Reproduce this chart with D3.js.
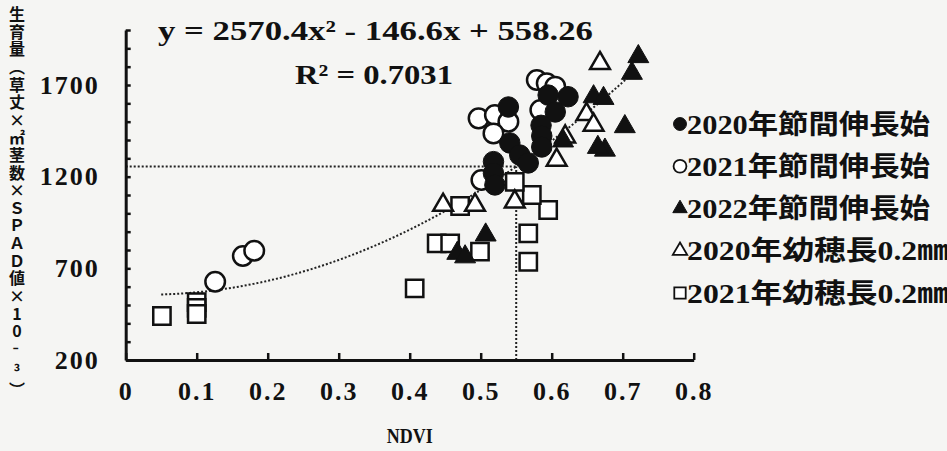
<!DOCTYPE html>
<html>
<head>
<meta charset="utf-8">
<script src="https://cdn.jsdelivr.net/npm/d3@7"></script>
<style>
  body { margin: 0; background: #f5f5f3; }
  text { fill: #111; }
</style>
</head>
<body>
<div id="chart"></div>
<script>
var W = 947, H = 451;

// values: [NDVI, growth]
var stem2020 = [[0.539,1580],[0.623,1636],[0.595,1645],[0.605,1553],[0.585,1480],[0.586,1422],[0.586,1362],
  [0.541,1384],[0.555,1318],[0.518,1282],[0.518,1218],[0.520,1155],[0.567,1275]];
var stem2021 = [[0.579,1727],[0.593,1709],[0.605,1691],[0.584,1564],[0.497,1518],[0.520,1536],[0.539,1500],
  [0.518,1436],[0.501,1182],[0.126,627],[0.165,767],[0.181,796]];
var stem2022 = [[0.722,1855],[0.713,1764],[0.659,1636],[0.673,1627],[0.703,1473],[0.675,1345],[0.665,1360],
  [0.616,1395],[0.507,882],[0.467,782],[0.478,763]];
var panicle2020 = [[0.668,1818],[0.649,1540],[0.659,1482],[0.619,1418],[0.607,1291],[0.447,1045],[0.492,1045],[0.548,1063]];
var panicle2021 = [[0.051,440],[0.1,516],[0.1,484],[0.1,451],[0.407,591],[0.438,836],[0.457,836],[0.499,791],
  [0.471,1040],[0.567,891],[0.567,736],[0.595,1018],[0.572,1100],[0.548,1172]];

var fit = {a: 2570.4, b: -146.6, c: 558.26, from: 0.05, to: 0.72};
var guideX = 0.55, guideY = 1255;

var yLabeled = [200, 700, 1200, 1700];
var xTicks = [0, 0.1, 0.2, 0.3, 0.4, 0.5, 0.6, 0.7, 0.8];
var legendLabels = ["2020年節間伸長始", "2021年節間伸長始", "2022年節間伸長始", "2020年幼穂長0.2㎜", "2021年幼穂長0.2㎜"];
var yTitle = "生育量（草丈×㎡茎数×ＳＰＡＤ値×10⁻³）";

var x = d3.scaleLinear().domain([0, 0.8]).range([125.7, 693.7]);
var y = d3.scaleLinear().domain([200, 2000]).range([360, 30]);

var svg = d3.select("#chart").append("svg")
  .attr("width", W).attr("height", H)
  .style("background-color", "#f5f5f3");

var serif = "'Liberation Serif', 'Noto Sans CJK JP', serif";

// guide lines
var fy = function(v) { return fit.a * v * v + fit.b * v + fit.c; };
svg.append("path")
  .attr("d", "M" + x(0) + "," + y(guideY) + "H" + x(guideX) + "M" + x(guideX) + "," + y(200) + "V" + y(guideY))
  .attr("fill", "none").attr("stroke", "#222").attr("stroke-width", 2).attr("stroke-dasharray", "2,2");

// fitted curve
var curveX = d3.range(fit.from, fit.to + 0.001, 0.01);
svg.append("path")
  .datum(curveX)
  .attr("d", d3.line().x(d => x(d)).y(d => y(fy(d))))
  .attr("fill", "none").attr("stroke", "#222").attr("stroke-width", 2).attr("stroke-dasharray", "2,2");

// axes
var yAxis = d3.axisLeft(y)
  .tickValues(d3.range(200, 2001, 100))
  .tickSize(-5).tickSizeOuter(0).tickPadding(26)
  .tickFormat(d => yLabeled.indexOf(d) >= 0 ? d : "");
var gy = svg.append("g").attr("transform", "translate(" + x(0) + ",0)").call(yAxis);

var xAxis = d3.axisBottom(x)
  .tickValues(xTicks)
  .tickSize(-7).tickSizeOuter(0).tickPadding(22)
  .tickFormat(d => d === 0 ? "0" : d3.format(".1f")(d));
var gx = svg.append("g").attr("transform", "translate(0," + y(200) + ")").call(xAxis);

[gx, gy].forEach(function(g) {
  g.select(".domain").attr("stroke", "#111").attr("stroke-width", 3);
  g.selectAll(".tick line").attr("stroke", "#111").attr("stroke-width", 2.5);
  g.selectAll(".tick text")
    .style("font-family", serif).style("font-weight", "bold").style("font-size", "26px")
    .attr("fill", "#111").attr("letter-spacing", "2");
});

// x title
svg.append("text")
  .attr("x", (x(0) + x(0.8)) / 2).attr("y", 443)
  .attr("text-anchor", "middle")
  .attr("textLength", 46).attr("lengthAdjust", "spacingAndGlyphs")
  .style("font-family", serif).style("font-weight", "bold").style("font-size", "21px")
  .text("NDVI");

// y title, written vertically
svg.append("text")
  .attr("x", 17).attr("y", 6)
  .style("writing-mode", "vertical-rl").style("text-orientation", "upright")
  .attr("textLength", 392).attr("lengthAdjust", "spacing")
  .style("font-family", "'Noto Sans CJK JP', sans-serif").style("font-weight", "bold")
  .style("font-size", "16px").attr("fill", "#333")
  .text(yTitle);

// markers
var sym = d3.symbol();
function drawSeries(data, type, size, filled) {
  svg.append("g").selectAll("path")
    .data(data)
    .join("path")
    .attr("transform", d => "translate(" + x(d[0]) + "," + y(d[1]) + ")")
    .attr("d", sym.type(type).size(size)())
    .attr("fill", filled ? "#111" : "#fff")
    .attr("stroke", "#111")
    .attr("stroke-width", filled ? 1 : 2.5);
}
drawSeries(panicle2021, d3.symbolSquare, 300, false);
drawSeries(panicle2020, d3.symbolTriangle, 170, false);
drawSeries(stem2021, d3.symbolCircle, 300, false);
drawSeries(stem2020, d3.symbolCircle, 330, true);
drawSeries(stem2022, d3.symbolTriangle, 190, true);

// equation
svg.append("text")
  .attr("x", 158).attr("y", 40)
  .attr("textLength", 435).attr("lengthAdjust", "spacingAndGlyphs")
  .style("font-family", serif).style("font-weight", "bold").style("font-size", "28px")
  .text("y = 2570.4x² - 146.6x + 558.26");
svg.append("text")
  .attr("x", 295).attr("y", 84)
  .attr("textLength", 158).attr("lengthAdjust", "spacingAndGlyphs")
  .style("font-family", serif).style("font-weight", "bold").style("font-size", "28px")
  .text("R² = 0.7031");

// legend
var legendTypes = [d3.symbolCircle, d3.symbolCircle, d3.symbolTriangle, d3.symbolTriangle, d3.symbolSquare];
var legendFilled = [true, false, true, false, false];
var legendWidths = [243, 243, 243, 262, 262];
var ly = d3.scalePoint().domain(d3.range(legendLabels.length)).range([124, 293]);
var lg = svg.append("g");
legendLabels.forEach(function(lab, i) {
  lg.append("path")
    .attr("transform", "translate(680," + ly(i) + ")")
    .attr("d", d3.symbol().type(legendTypes[i]).size(legendTypes[i] === d3.symbolTriangle ? 90 : 130)())
    .attr("fill", legendFilled[i] ? "#111" : "#fff")
    .attr("stroke", "#111").attr("stroke-width", legendFilled[i] ? 1 : 1.8);
  lg.append("text")
    .attr("x", 687).attr("y", ly(i)).attr("dy", "0.36em")
    .attr("textLength", legendWidths[i]).attr("lengthAdjust", "spacingAndGlyphs")
    .style("font-family", serif).style("font-weight", "bold").style("font-size", "27px")
    .text(lab);
});
</script>
</body>
</html>
